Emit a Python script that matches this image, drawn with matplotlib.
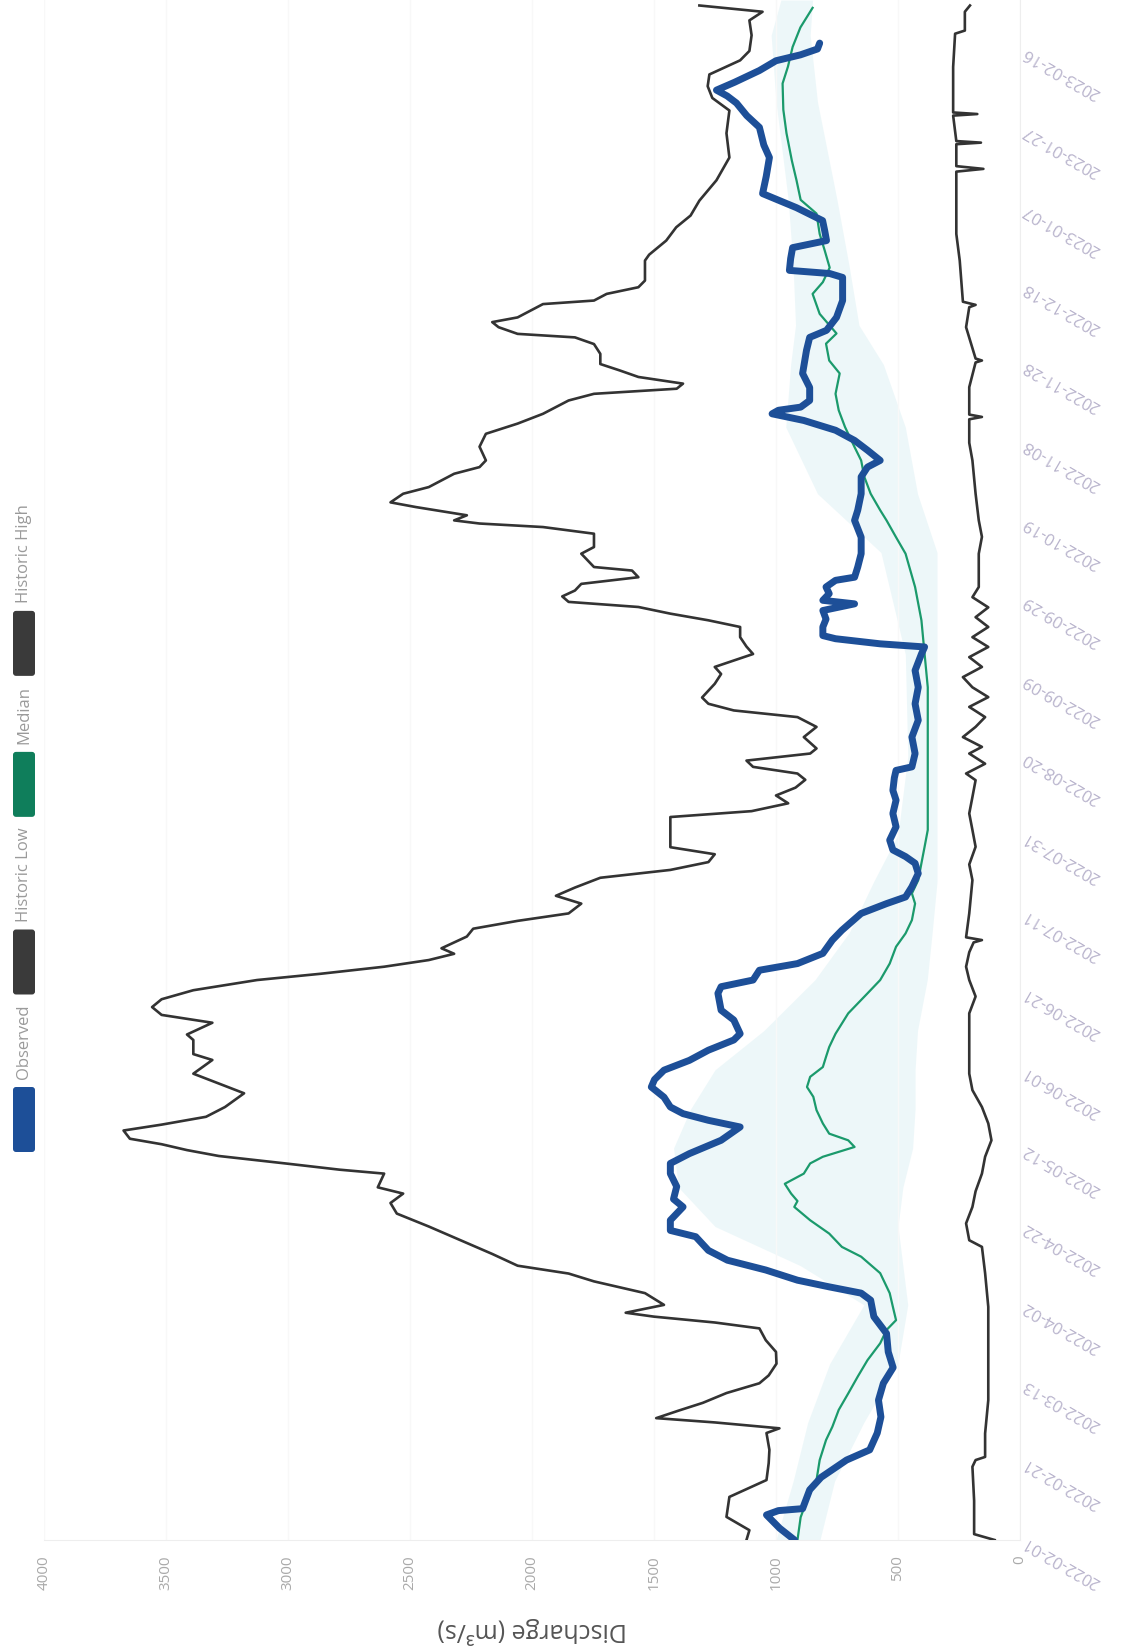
"""
Discharge chart (rotated layout): observed vs historic low / median / high.
Values read off the reference picture; days counted from START.
"""
import numpy as np
import pandas as pd
import matplotlib
matplotlib.use("Agg")  # no display
import matplotlib.pyplot as plt
from matplotlib.patches import FancyBboxPatch

plt.rcParams["font.family"] = ["Open Sans", "DejaVu Sans"]

START = pd.Timestamp("2022-02-01")
END_DAY = 393

# ── Historic High ─────────────────────────────────────────────────────
high_days = [0, 2.5, 5.9, 11, 15.3, 19.6, 23, 27.3, 28.5, 30, 31.1, 33, 35, 37.5, 40, 42, 45, 48, 51,
             54, 55.5, 57, 58, 60, 63, 66, 68, 70, 73, 76.5, 80, 83.3, 86, 88.4, 90, 93.5, 94.5, 96, 98,
             99.5, 101, 102.4, 104.5, 106, 108, 110.5, 114, 116.5, 119, 122.5, 124, 127.6, 129, 132, 134,
             136, 138, 140.3, 142.9, 144.5, 146.3, 148, 149.6, 151, 154, 156, 158, 159.9, 162.4, 164.4,
             166.5, 169, 171, 173, 175, 176.8, 184.5, 186, 188, 190, 192, 194, 195.6, 197.3, 198.9, 200.7,
             202, 204.9, 207.5, 210, 211.7, 213.4, 215, 218.5, 221, 222.8, 226.1, 228, 230.4, 233, 234.7,
             236.4, 238.1, 239.4, 240.8, 242.3, 244, 245.7, 247.4, 248.3, 251.7, 253.4, 256.8, 258.5,
             259.4, 260.2, 261.5, 263.6, 264.8, 267, 268.7, 272.1, 273.8, 275.5, 279, 282.3, 284.9, 287.4,
             290.8, 292.5, 293.8, 295.1, 296.8, 298.5, 300.1, 302.7, 305.2, 306.9, 307.8, 309.5, 310.8,
             312, 313.7, 315.4, 316.3, 318, 319.7, 321.4, 326.5, 328, 331.6, 335, 338, 341.8, 347, 352.8,
             359, 364.8, 368, 371, 374, 377.6, 380, 384, 387.8, 390, 391.6]
high_vals = [1121, 1109, 1203, 1191, 1039, 1030, 1027, 1039, 986, 1250, 1491, 1400, 1300, 1203, 1068,
             1030, 998, 1000, 1042, 1068, 1250, 1500, 1616, 1459, 1537, 1746, 1850, 2059, 2163, 2293,
             2423, 2554, 2580, 2528, 2632, 2606, 2788, 2997, 3284, 3414, 3518, 3648, 3674, 3518, 3336,
             3258, 3180, 3284, 3388, 3310, 3388, 3388, 3414, 3310, 3518, 3557, 3518, 3388, 3127, 2866,
             2606, 2423, 2319, 2371, 2267, 2241, 2059, 1850, 1798, 1902, 1824, 1720, 1433, 1277, 1251,
             1433, 1433, 1100, 950, 1000, 920, 880, 912, 1094, 1121, 860, 834, 886, 834, 912, 1173, 1277,
             1303, 1251, 1225, 1251, 1094, 1121, 1147, 1147, 1277, 1433, 1564, 1850, 1876, 1824, 1798,
             1564, 1590, 1746, 1798, 1746, 1746, 1955, 2215, 2319, 2267, 2476, 2580, 2528, 2423, 2319,
             2215, 2189, 2215, 2189, 2059, 1955, 1850, 1746, 1407, 1381, 1564, 1642, 1720, 1720, 1746,
             1824, 2059, 2137, 2163, 2059, 2007, 1955, 1746, 1694, 1564, 1537, 1537, 1520, 1450, 1409,
             1350, 1314, 1244, 1191, 1203, 1191, 1261, 1280, 1273, 1147, 1109, 1100, 1109, 1055, 1314]

# ── Observed ──────────────────────────────────────────────────────────
obs_days = [0, 3, 6.4, 7.5, 8, 12.8, 16, 20.4, 23, 27.3, 31.4, 35.7, 40, 44, 48, 52.7, 57, 61.2, 63, 64.6,
            66.3, 68.9, 71.4, 73.9, 77.4, 79, 81.6, 85, 87, 90.2, 93.5, 96.1, 98.6, 102, 105.4, 107.1,
            108.8, 110.5, 113, 115.6, 117.5, 119.9, 122.4, 125, 127.6, 129.2, 132.7, 135.2, 139.5, 141.2,
            142.9, 145.4, 147.1, 149.7, 153.1, 155.6, 159.9, 162.4, 164.1, 166.7, 170.1, 172.7, 174.4,
            176.1, 178.6, 182, 185.4, 188.8, 191.3, 194.5, 196.4, 197.3, 200.7, 204.9, 209.2, 213.4,
            217.6, 221.9, 226.1, 227.9, 228.7, 230, 230.8, 233, 235, 237.2, 238.9, 239.8, 241.5, 243.2,
            244.9, 245.7, 248.3, 251.7, 255.9, 260.2, 262.8, 267, 271.3, 273.8, 275.5, 278.1, 280.6,
            283.2, 285.7, 287.4, 288.3, 289.1, 290.8, 294.1, 297.7, 303.6, 306.9, 308.7, 312, 316.3,
            322.2, 323.2, 324, 327, 329.8, 331.6, 334, 336.7, 340, 343.6, 348, 352.8, 356, 360.5, 363.5,
            366.7, 368.5, 370, 372, 375, 377.5, 379, 380.5, 382]
obs_vals = [924, 985, 1039, 990, 891, 862, 815, 711, 616, 585, 570, 580, 560, 520, 540, 547, 599, 612, 651,
            782, 912, 1042, 1199, 1277, 1329, 1433, 1433, 1381, 1420, 1407, 1433, 1433, 1355, 1225, 1147,
            1277, 1381, 1433, 1459, 1511, 1498, 1459, 1355, 1277, 1173, 1147, 1173, 1225, 1238, 1225,
            1094, 1068, 912, 808, 769, 730, 651, 547, 469, 443, 417, 430, 469, 521, 534, 508, 521, 508,
            521, 515, 508, 443, 430, 443, 417, 430, 417, 430, 404, 391, 573, 756, 808, 808, 795, 808, 678,
            808, 782, 795, 756, 678, 665, 651, 651, 678, 665, 651, 651, 625, 573, 625, 678, 756, 886,
            1016, 990, 899, 862, 862, 891, 875, 862, 793, 752, 727, 727, 780, 945, 940, 932, 793, 800,
            809, 916, 1055, 1040, 1027, 1050, 1068, 1120, 1162, 1200, 1244, 1170, 1068, 1000, 900, 830,
            821]

# ── Median ────────────────────────────────────────────────────────────
med_days = [0, 5.8, 10.2, 15.3, 20.4, 25.5, 28.9, 33.2, 37.4, 41.7, 45.9, 50.2, 53.6, 56.1, 59.5, 63,
            68.1, 72.3, 74.8, 78.2, 81.6, 85, 86.5, 88.4, 90.9, 93.5, 96.1, 97.8, 100.3, 102, 103.7, 106.3,
            109.7, 113.1, 115.6, 118.2, 120.7, 123.3, 125.8, 129.2, 134.4, 139.5, 142.9, 147.1, 151.4,
            154.8, 158.2, 162.4, 165, 168.4, 172.7, 176.9, 181.2, 190, 200, 210, 217.6, 226.1, 234.7,
            243.2, 251.7, 255.9, 260.2, 262.8, 267, 271.3, 275.5, 278.9, 284, 288.3, 292.5, 297.7, 301,
            305.3, 307.9, 312.9, 318, 321, 324.7, 329, 333.3, 338.5, 342, 347, 352, 359, 365, 371.7, 376,
            381, 386, 391]
med_vals = [912, 899, 873, 834, 821, 795, 769, 743, 704, 665, 625, 573, 547, 508, 521, 534, 573, 651, 730,
            782, 860, 925, 912, 938, 964, 886, 860, 808, 678, 704, 782, 808, 834, 847, 873, 860, 808, 795,
            782, 756, 704, 625, 573, 534, 508, 469, 443, 430, 443, 417, 404, 391, 378, 378, 378, 378, 378,
            391, 404, 430, 469, 508, 547, 573, 612, 638, 651, 678, 717, 743, 756, 739, 782, 795, 752, 821,
            850, 808, 780, 800, 821, 834, 899, 916, 935, 957, 970, 973, 951, 932, 900, 850]

# ── Historic Low ──────────────────────────────────────────────────────
low_days = [0, 1.5, 10, 18.7, 20.4, 21.2, 27.2, 35.7, 44.2, 52.7, 59.5, 68.1, 74.8, 76.5, 80.8, 85, 89,
            93.5, 97.8, 102, 106.3, 110.5, 114.8, 119, 127.6, 134.4, 138.7, 142.9, 146.3, 150, 152.5,
            153.1, 153.8, 159.9, 168.4, 172.4, 176.9, 181.2, 185.4, 189.6, 193.9, 195.6, 198.1, 200.7,
            202.4, 204.9, 207.5, 210, 212.6, 215.1, 217.6, 220.2, 222.8, 225.3, 227.9, 230.4, 233, 235.5,
            238, 240.6, 243.2, 251.7, 256, 260.2, 267, 275.5, 280, 286, 286.6, 287.2, 294.2, 300.5, 301,
            301.5, 309.5, 314.6, 315.2, 316, 326.5, 333.3, 349.2, 349.9, 350.6, 356.2, 356.6, 357, 363.5,
            363.9, 364.3, 375.9, 384.4, 385.2, 390, 391.6]
low_vals = [104, 188, 188, 195, 182, 143, 143, 130, 130, 130, 130, 143, 156, 208, 221, 195, 182, 156, 143,
            117, 130, 156, 195, 208, 208, 208, 182, 208, 221, 208, 190, 156, 221, 208, 195, 208, 182, 195,
            208, 195, 182, 221, 143, 208, 156, 234, 182, 143, 208, 130, 195, 234, 156, 208, 130, 195, 130,
            182, 130, 195, 169, 169, 156, 169, 182, 195, 208, 208, 156, 208, 208, 182, 156, 182, 221, 208,
            182, 234, 247, 261, 261, 150, 261, 261, 160, 261, 274, 175, 274, 274, 266, 226, 226, 205]

# ── light band around the median ──────────────────────────────────────
band_days = [0, 15, 30, 45, 60, 70, 80, 90, 100, 110, 120, 130, 143, 155, 168, 180, 200, 226, 252, 267,
             284, 300, 310, 325, 342, 367, 384, 393]
band_lo = [820, 760, 640, 500, 460, 480, 500, 480, 440, 430, 430, 420, 380, 360, 340, 340, 340, 340, 340,
           420, 470, 560, 660, 700, 750, 830, 860, 850]
band_hi = [1000, 930, 870, 780, 640, 900, 1250, 1400, 1420, 1350, 1250, 1050, 840, 700, 600, 500, 460,
           470, 570, 830, 960, 940, 920, 930, 950, 1000, 1020, 980]

legend_names = ["Observed", "Historic Low", "Median", "Historic High"]
legend_colors = ["#1d4f98", "#3a3a3a", "#0f7e5b", "#3a3a3a"]


def to_dates(days):
    return START + pd.to_timedelta(np.asarray(days, dtype=float), unit="D")


W, H = 1121, 1652
fig = plt.figure(figsize=(W / 100, H / 100), dpi=100)
ax = fig.add_axes([44 / W, (H - 1540) / H, (1020 - 44) / W, 1540 / H])

# band, then series (observed on top)
ax.fill_betweenx(to_dates(band_days), band_lo, band_hi, color="#dcf0f4", alpha=0.5, lw=0, zorder=1)
ax.plot(high_vals, to_dates(high_days), color="#333333", lw=1.9, solid_joinstyle="round", zorder=3)
ax.plot(low_vals, to_dates(low_days), color="#333333", lw=1.9, solid_joinstyle="round", zorder=3)
ax.plot(med_vals, to_dates(med_days), color="#1b9a6c", lw=1.6, solid_joinstyle="round", zorder=4)
ax.plot(obs_vals, to_dates(obs_days), color="#1d4f98", lw=5, solid_joinstyle="round",
        solid_capstyle="round", zorder=5)

# value axis runs right -> left, time runs bottom -> top
ax.set_xlim(4000, 0)
ax.set_ylim(START, START + pd.Timedelta(days=END_DAY))

ax.set_xticks(range(0, 4001, 500))
ax.set_xticklabels([str(v) for v in range(0, 4001, 500)])
ax.tick_params(axis="x", length=0, pad=11, labelsize=11, labelcolor="#a9a9a9", labelrotation=90)
ax.grid(axis="x", color="#f8f8f8", lw=1)

tick_dates = pd.date_range(START, periods=20, freq="20D")
ax.yaxis.tick_right()
ax.set_yticks(tick_dates)
ax.set_yticklabels([d.strftime("%Y-%m-%d") for d in tick_dates], rotation=150,
                   rotation_mode="anchor", ha="right", va="center")
ax.tick_params(axis="y", length=0, pad=3, labelsize=12, labelcolor="#b8b3cc")

for side in ["top", "left"]:
    ax.spines[side].set_visible(False)
for side in ["bottom", "right"]:
    ax.spines[side].set_color("#eeeeee")

ax.set_xlabel("Discharge (m³/s)", rotation=180, fontsize=18, color="#555555")
ax.xaxis.set_label_coords(0.5, -0.059)
ax.xaxis.label.set_va("center")

# legend, drawn by hand: swatch then label, stacked upward along the left edge
renderer = fig.canvas.get_renderer()
cursor = 1152
for name, color in zip(legend_names, legend_colors):
    box = FancyBboxPatch((13 / 100, (H - cursor) / 100), 0.22, 0.65,
                         boxstyle="round,pad=0,rounding_size=0.03",
                         transform=fig.dpi_scale_trans, fc=color, ec="none")
    fig.add_artist(box)
    txt = fig.text(24 / 100, (H - cursor + 65 + 8) / 100, name, rotation=90, ha="center", va="bottom",
                   fontsize=12, color="#9a9a9a", transform=fig.dpi_scale_trans)
    length = txt.get_window_extent(renderer).height
    cursor = cursor - 65 - 8 - length - 10

fig.savefig("out.png", dpi=100)
